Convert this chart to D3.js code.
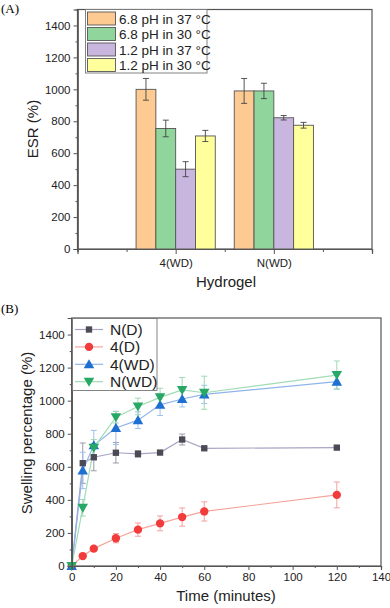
<!DOCTYPE html>
<html><head><meta charset="utf-8">
<script src="https://cdn.jsdelivr.net/npm/d3@7"></script>
<style>body{margin:0;background:#fff}svg{display:block;font-family:"Liberation Sans",Arial,sans-serif}</style>
</head><body>
<svg id="c" width="390" height="608"></svg>
<script>
// Panel A data
const groupsA = ["4(WD)", "N(WD)"];
const seriesA = ["6.8 pH in 37 °C", "6.8 pH in 30 °C", "1.2 pH in 37 °C", "1.2 pH in 30 °C"];
const valuesA = [[1000, 990], [755, 990], [500, 822], [708, 775]];
const errorsA = [[68, 78], [52, 48], [47, 14], [35, 18]];
const colorsA = ["#fdca92", "#90d59c", "#c8b6df", "#ffff9c"];
const ticksA = [0, 200, 400, 600, 800, 1000, 1200, 1400];

// Panel B data
const timeB = [0, 5, 10, 20, 30, 40, 50, 60, 120];
const namesB = ["N(D)", "4(D)", "4(WD)", "N(WD)"];
const nD = [0, 622, 658, 685, 678, 686, 765, 712, 716];
const nDerr = [0, 122, 82, 62, 20, 10, 33, 8, 8];
const fourD = [0, 60, 105, 168, 220, 258, 296, 330, 430];
const fourDerr = [0, 8, 12, 28, 40, 45, 55, 58, 78];
const fourWD = [0, 578, 730, 835, 882, 975, 1010, 1038, 1115];
const fourWDerr = [0, 110, 90, 100, 50, 65, 48, 55, 45];
const nWD = [0, 352, 715, 900, 965, 1020, 1065, 1048, 1155];
const nWDerr = [0, 50, 50, 35, 50, 55, 75, 100, 85];
const ticksBx = [0, 20, 40, 60, 80, 100, 120, 140];
const ticksBy = [0, 200, 400, 600, 800, 1000, 1200, 1400];

const svg = d3.select("#c");
const fmt = d3.format("d");

// ---------- Panel A ----------
const xA = d3.scaleLinear().domain([0, 3]).range([77.5, 372]);
const yA = d3.scaleLinear().domain([0, 1500]).range([249, 9.5]);
const barW = 19.8;
const gA = svg.append("g");
gA.append("text").attr("x", 1).attr("y", 13).attr("font-family", "Liberation Serif,serif").attr("font-size", 13).text("(A)");
gA.append("rect").attr("x", xA(0)).attr("y", yA(1500)).attr("width", xA(3) - xA(0)).attr("height", yA(0) - yA(1500))
  .attr("fill", "none").attr("stroke", "#555").attr("stroke-width", 1.2);
seriesA.forEach((s, i) => {
  groupsA.forEach((g, j) => {
    const cx = xA(j + 1) + (i - 2) * barW;
    const v = valuesA[i][j], e = errorsA[i][j];
    gA.append("rect").attr("x", cx).attr("y", yA(v)).attr("width", barW).attr("height", yA(0) - yA(v))
      .attr("fill", colorsA[i]).attr("stroke", "#555").attr("stroke-width", 0.9);
    const mx = cx + barW / 2;
    gA.append("line").attr("x1", mx).attr("x2", mx).attr("y1", yA(v + e)).attr("y2", yA(v - e)).attr("stroke", "#444").attr("stroke-width", 0.9);
    [v + e, v - e].forEach(t => gA.append("line").attr("x1", mx - 3).attr("x2", mx + 3).attr("y1", yA(t)).attr("y2", yA(t)).attr("stroke", "#444").attr("stroke-width", 0.9));
  });
});
const axYA = gA.append("g").attr("transform", `translate(${xA(0)},0)`).call(d3.axisLeft(yA).tickValues(ticksA).tickFormat(fmt).tickSize(4).tickPadding(3));
const axYAm = gA.append("g").attr("transform", `translate(${xA(0)},0)`).call(d3.axisLeft(yA).tickValues(d3.range(100, 1500, 200)).tickSize(2).tickFormat(""));
const axXA = gA.append("g").attr("transform", `translate(0,${yA(0)})`).call(d3.axisBottom(xA).tickValues([1, 2]).tickFormat((d) => groupsA[d - 1]).tickSize(5).tickPadding(5));
const axXAm = gA.append("g").attr("transform", `translate(0,${yA(0)})`).call(d3.axisBottom(xA).tickValues([0, 0.5, 1.5, 2.5, 3]).tickSize(3).tickFormat(""));
[axYA, axYAm, axXA, axXAm].forEach(a => { a.select(".domain").attr("stroke", "#555").attr("stroke-width", 1.2); a.selectAll("line").attr("stroke", "#555"); a.selectAll("text").attr("font-size", 11.5).attr("fill", "#222").attr("font-family", "Liberation Sans,Arial,sans-serif"); });
gA.append("text").attr("transform", `translate(38,129) rotate(-90)`).attr("text-anchor", "middle").attr("font-size", 15).attr("fill", "#222").text("ESR (%)");
gA.append("text").attr("x", 226).attr("y", 287).attr("text-anchor", "middle").attr("font-size", 15).attr("fill", "#222").text("Hydrogel");
const lgA = gA.append("g");
lgA.append("rect").attr("x", 85.5).attr("y", 9.5).attr("width", 121.5).attr("height", 63.5).attr("fill", "#fff").attr("stroke", "#777").attr("stroke-width", 0.9);
seriesA.forEach((s, i) => {
  const yy = 11.5 + i * 15.5;
  lgA.append("rect").attr("x", 87.5).attr("y", yy + 0.5).attr("width", 28).attr("height", 13).attr("fill", colorsA[i]).attr("stroke", "#555").attr("stroke-width", 0.9);
  lgA.append("text").attr("x", 119).attr("y", yy + 12).attr("font-size", 13.5).attr("fill", "#222").text(s);
});

// ---------- Panel B ----------
const xB = d3.scaleLinear().domain([0, 140]).range([71.7, 381]);
const yB = d3.scaleLinear().domain([0, 1500]).range([566, 318]);
const gB = svg.append("g");
gB.append("text").attr("x", 1).attr("y", 313).attr("font-family", "Liberation Serif,serif").attr("font-size", 13).text("(B)");
gB.append("rect").attr("x", xB(0)).attr("y", yB(1500)).attr("width", xB(140) - xB(0)).attr("height", yB(0) - yB(1500))
  .attr("fill", "none").attr("stroke", "#555").attr("stroke-width", 1.2);

const seriesB = [
  { name: namesB[0], v: nD, e: nDerr, mk: "#4b4b55", ln: "#aaa4c4", er: "#9a9aa8", sym: d3.symbolSquare, size: 40, rot: 0 },
  { name: namesB[1], v: fourD, e: fourDerr, mk: "#f23b3b", ln: "#f8a49c", er: "#f5a0a0", sym: d3.symbolCircle, size: 55, rot: 0 },
  { name: namesB[2], v: fourWD, e: fourWDerr, mk: "#1d6fd2", ln: "#8fb4ea", er: "#9ec0ea", sym: d3.symbolTriangle, size: 48, rot: 0 },
  { name: namesB[3], v: nWD, e: nWDerr, mk: "#27a865", ln: "#a0dcb4", er: "#a0d8b4", sym: d3.symbolTriangle, size: 48, rot: 180 }
];
const line = d3.line().x((d, i) => xB(timeB[i])).y(d => yB(d));
seriesB.forEach(s => {
  timeB.forEach((t, i) => {
    const e = s.e[i]; if (!e) return;
    const x = xB(t);
    gB.append("line").attr("x1", x).attr("x2", x).attr("y1", yB(s.v[i] + e)).attr("y2", yB(s.v[i] - e)).attr("stroke", s.er).attr("stroke-width", 1);
    [s.v[i] + e, s.v[i] - e].forEach(vv => gB.append("line").attr("x1", x - 3).attr("x2", x + 3).attr("y1", yB(vv)).attr("y2", yB(vv)).attr("stroke", s.er).attr("stroke-width", 1));
  });
});
seriesB.forEach(s => {
  gB.append("path").datum(s.v).attr("d", line).attr("fill", "none").attr("stroke", s.ln).attr("stroke-width", 1.2);
});
seriesB.forEach(s => {
  gB.selectAll(null).data(s.v).enter().append("path")
    .attr("transform", (d, i) => `translate(${xB(timeB[i])},${yB(d) + (s.rot ? -1 : (s.sym === d3.symbolTriangle ? 1 : 0))}) rotate(${s.rot})`)
    .attr("d", d3.symbol().type(s.sym).size(s.size)).attr("fill", s.mk);
});
const axYB = gB.append("g").attr("transform", `translate(${xB(0)},0)`).call(d3.axisLeft(yB).tickValues(ticksBy).tickFormat(fmt).tickSize(4).tickPadding(3));
const axYBm = gB.append("g").attr("transform", `translate(${xB(0)},0)`).call(d3.axisLeft(yB).tickValues(d3.range(100, 1500, 200)).tickSize(2).tickFormat(""));
const axXB = gB.append("g").attr("transform", `translate(0,${yB(0)})`).call(d3.axisBottom(xB).tickValues(ticksBx).tickFormat(fmt).tickSize(4).tickPadding(3));
const axXBm = gB.append("g").attr("transform", `translate(0,${yB(0)})`).call(d3.axisBottom(xB).tickValues(d3.range(10, 140, 20)).tickSize(2).tickFormat(""));
[axYB, axYBm, axXB, axXBm].forEach(a => { a.select(".domain").attr("stroke", "#555").attr("stroke-width", 1.2); a.selectAll("line").attr("stroke", "#555"); a.selectAll("text").attr("font-size", 11.5).attr("fill", "#222").attr("font-family", "Liberation Sans,Arial,sans-serif"); });
gB.append("text").attr("transform", `translate(32,433) rotate(-90)`).attr("text-anchor", "middle").attr("font-size", 15).attr("fill", "#222").text("Swelling percentage (%)");
gB.append("text").attr("x", 226).attr("y", 601).attr("text-anchor", "middle").attr("font-size", 15).attr("fill", "#222").text("Time (minutes)");
const lgB = gB.append("g");
lgB.append("rect").attr("x", 72.5).attr("y", 318.5).attr("width", 84.5).attr("height", 72).attr("fill", "#fff").attr("stroke", "#777").attr("stroke-width", 0.9);
seriesB.forEach((s, i) => {
  const yy = 329.5 + i * 17.4;
  lgB.append("line").attr("x1", 75).attr("x2", 103).attr("y1", yy).attr("y2", yy).attr("stroke", s.ln).attr("stroke-width", 1.2);
  lgB.append("path").attr("transform", `translate(89,${yy + (s.rot ? -1 : (s.sym === d3.symbolTriangle ? 1 : 0))}) rotate(${s.rot})`).attr("d", d3.symbol().type(s.sym).size(s.size)).attr("fill", s.mk);
  lgB.append("text").attr("x", 110).attr("y", yy + 5.5).attr("font-size", 15.5).attr("fill", "#222").text(s.name);
});
</script>
</body></html>
